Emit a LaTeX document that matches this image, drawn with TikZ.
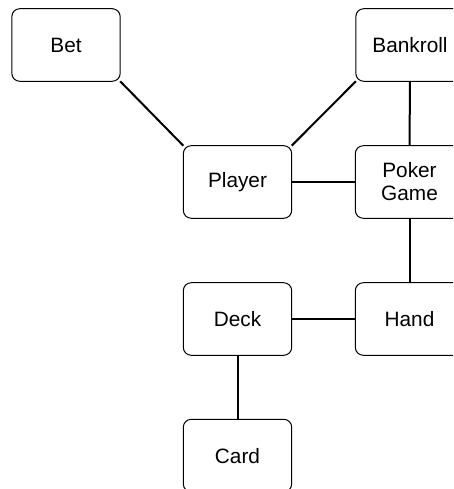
\documentclass[tikz,border=0pt]{standalone}
\usepackage{fontspec}
\setmainfont{Liberation Sans}
\begin{document}
\begin{tikzpicture}[x=1pt,y=-1pt,
  box/.style={draw=black, line width=1pt, rounded corners=8pt, fill=white,
    minimum width=108.4pt, minimum height=72.6pt, inner sep=0pt, outer sep=0pt,
    align=center, font=\fontsize{20.8}{23}\selectfont},
  link/.style={draw=black, line width=2pt}]
\useasboundingbox (0,0) rectangle (453,489);
\clip (0,0) rectangle (453,489);
\fill[white] (0,0) rectangle (453,489);
\node[box] (bet) at (66,45) {Bet};
\node[box] (bankroll) at (410,45) {Bankroll};
\node[box] (player) at (237.5,182) {Player};
\node[box] (poker) at (409.5,182) {Poker\\Game};
\node[box] (deck) at (237.5,319) {Deck};
\node[box] (hand) at (409.5,319) {Hand};
\node[box] (card) at (237.5,455.6) {Card};
\draw[link] (bet.south east) -- (player.north west);
\draw[link] (bankroll.south west) -- (player.north east);
\draw[link] (bankroll.south) -- (poker.north);
\draw[link] (player.east) -- (poker.west);
\draw[link] (poker.south) -- (hand.north);
\draw[link] (deck.east) -- (hand.west);
\draw[link] (deck.south) -- (card.north);
\end{tikzpicture}
\end{document}
